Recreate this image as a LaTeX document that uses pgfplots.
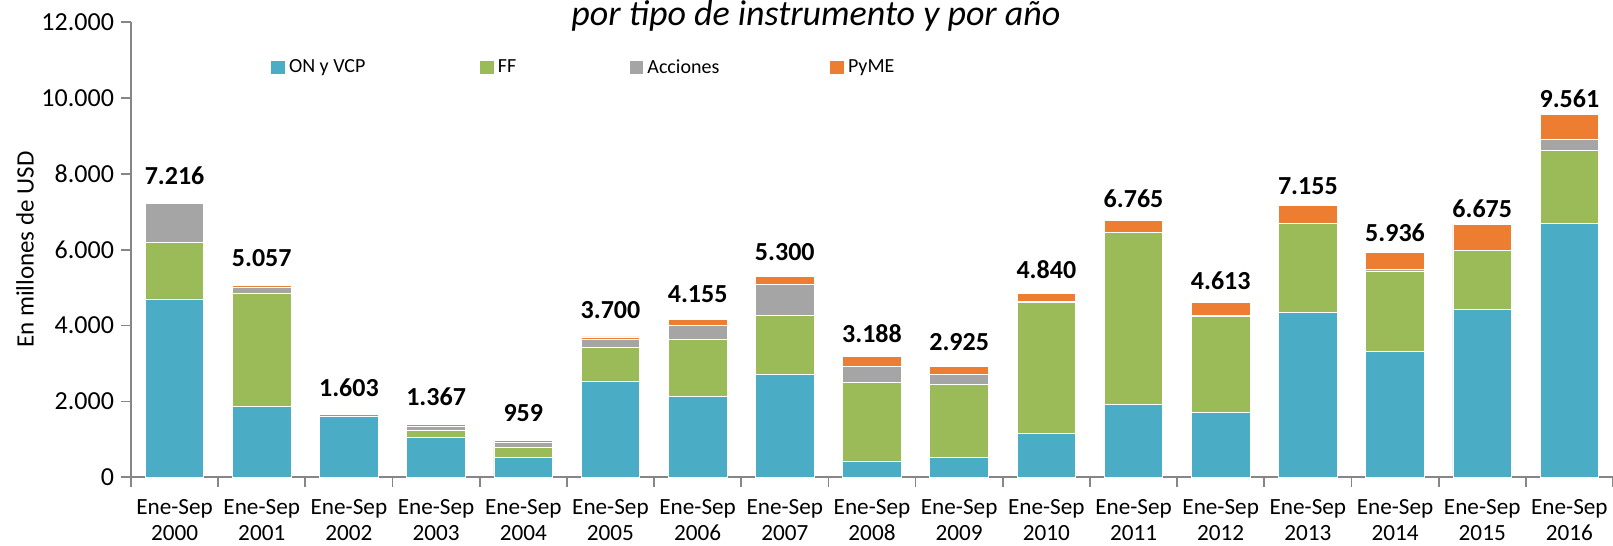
\documentclass[border=0pt]{standalone}
\usepackage{pgfplots}
\usepackage{pgfplotstable}
\pgfplotsset{compat=1.18}
\usepackage{fontspec}
\setmainfont{Carlito}
\definecolor{cON}{HTML}{4BACC6}
\definecolor{cFF}{HTML}{9BBB59}
\definecolor{cAC}{HTML}{A5A5A5}
\definecolor{cPY}{HTML}{ED7D31}
\definecolor{axisgray}{HTML}{868686}

\pgfplotstableread{
x on ff acc pyme label
0 4702 1500 1013 1 7.216
1 1860 3001 158 38 5.057
2 1597 0 0 60 1.603
3 1044 202 105 53 1.367
4 518 263 149 53 959
5 2540 890 215 55 3.700
6 2130 1510 365 150 4.155
7 2700 1555 840 205 5.300
8 430 2075 410 273 3.188
9 525 1935 250 215 2.925
10 1155 3460 10 215 4.840
11 1925 4520 10 310 6.765
12 1710 2540 5 358 4.613
13 4345 2355 5 450 7.155
14 3320 2100 56 460 5.936
15 4435 1555 0 685 6.675
16 6700 1915 305 641 9.561
}\data

\begin{document}
\begin{tikzpicture}
\begin{axis}[
  at={(65.5pt,34.35pt)}, anchor=south west,
  width=741pt, height=227.6pt, scale only axis,
  ybar stacked, bar width=29.3pt,
  xmin=-0.5, xmax=16.5, ymin=0, ymax=12000,
  axis x line*=bottom, axis y line*=left,
  axis line style={draw=axisgray, line width=0.9pt},
  tick align=outside,
  xtick={0,...,16},
  xticklabels={Ene-Sep\\2000,Ene-Sep\\2001,Ene-Sep\\2002,Ene-Sep\\2003,Ene-Sep\\2004,Ene-Sep\\2005,Ene-Sep\\2006,Ene-Sep\\2007,Ene-Sep\\2008,Ene-Sep\\2009,Ene-Sep\\2010,Ene-Sep\\2011,Ene-Sep\\2012,Ene-Sep\\2013,Ene-Sep\\2014,Ene-Sep\\2015,Ene-Sep\\2016},
  major x tick style={draw=none},
  minor xtick={-0.5,0.5,...,16.5},
  minor x tick style={draw=axisgray, line width=0.9pt},
  minor tick length=5pt,
  xticklabel style={align=center, font=\fontsize{11.6}{13.1}\selectfont, inner ysep=0pt, yshift=-6pt},
  ytick={0,2000,...,12000},
  major y tick style={draw=axisgray, line width=0.9pt},
  major tick length=5pt,
  scaled y ticks=false,
  yticklabel style={font=\fontsize{13}{15}\selectfont, /pgf/number format/.cd, fixed, 1000 sep={.}, assume math mode=true},
  ylabel={En millones de USD},
  ylabel style={font=\fontsize{12.5}{15}\selectfont, at={(axis description cs:-0.0715,0.5)}, anchor=center},
  legend style={at={(axis description cs:0.0945,0.900)}, anchor=west, draw=none, fill=none,
    font=\fontsize{10}{12}\selectfont, legend columns=4, column sep=0pt, inner sep=0pt},
  legend cell align=left,
  legend image code/.code={\path[#1,draw=none] (0pt,-3.4pt) rectangle (6.8pt,3.4pt);},
]
\addplot[fill=cON, draw=white, line width=0.4pt] table[x=x, y=on] {\data};
\addplot[fill=cFF, draw=white, line width=0.4pt] table[x=x, y=ff] {\data};
\addplot[fill=cAC, draw=white, line width=0.4pt] table[x=x, y=acc] {\data};
\addplot[fill=cPY, draw=white, line width=0.4pt,
  nodes near coords, point meta=explicit symbolic,
  every node near coord/.style={font=\bfseries\fontsize{13}{15}\selectfont, text=black, anchor=center, yshift=14pt}]
  table[x=x, y=pyme, meta=label] {\data};
\legend{\makebox[93.6pt][l]{ON y VCP},\makebox[64pt][l]{FF},\makebox[89.5pt][l]{Acciones},PyME}
\end{axis}
\node[font=\itshape\fontsize{18}{21}\selectfont, anchor=base] at (408pt,260pt) {por tipo de instrumento y por año};
\pgfresetboundingbox
\useasboundingbox (0,0) rectangle (806.5pt,273pt);
\end{tikzpicture}
\end{document}
